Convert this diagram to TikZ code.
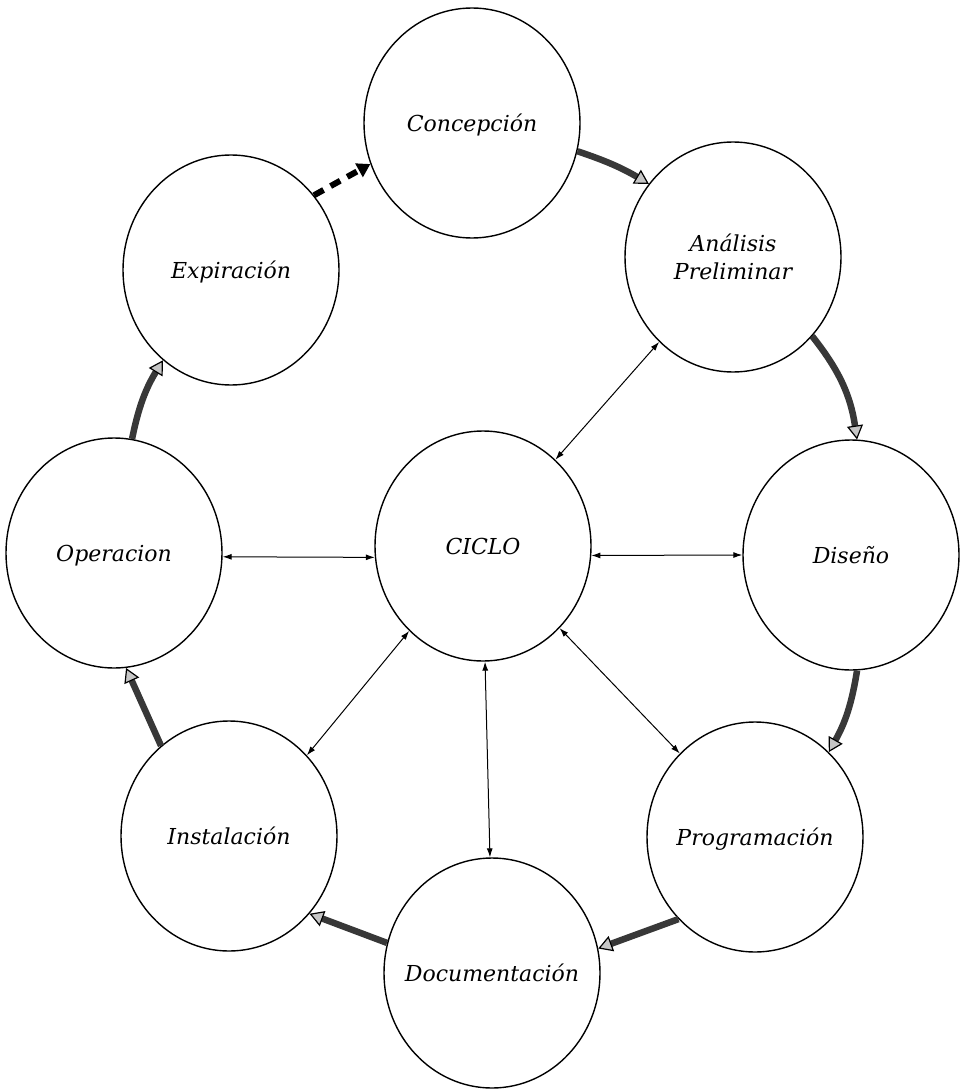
\documentclass[tikz,border=0pt]{standalone}
\usepackage{fontspec}
\setmainfont{DejaVu Serif}
\usetikzlibrary{shapes.geometric,arrows.meta}
\begin{document}
\begin{tikzpicture}[x=1pt,y=-1pt,
  phase/.style={ellipse, draw, line width=1.4pt, minimum width=216pt,
    minimum height=230pt, inner xsep=-20pt, inner ysep=0pt, align=center,
    text depth=-10pt, font=\fontsize{22}{28}\selectfont\itshape},
  link/.style={line width=1pt,
    {Latex[length=9pt,width=6pt]}-{Latex[length=9pt,width=6pt]}},
  flow/.style={line width=6.5pt, draw=black!78,
    -{Triangle[length=14pt,width=16pt,fill=gray!45,color=black,line width=1.2pt]}},
  lastflow/.style={line width=6pt, draw=black, dash pattern=on 11pt off 8pt,
    -{Triangle[length=13pt,width=15pt]}}
]
\useasboundingbox (0,0) rectangle (959,1091);
\fill[white] (0,0) rectangle (959,1091);

% phases of the life cycle
\node[phase] (con) at (472,123) {Concepción};
\node[phase] (ana) at (733,257) {Análisis\\Preliminar};
\node[phase] (dis) at (851,555) {Diseño};
\node[phase] (pro) at (755,837) {Programación};
\node[phase] (doc) at (492,973) {Documentación};
\node[phase] (ins) at (229,836) {Instalación};
\node[phase] (ope) at (114,553) {Operacion};
\node[phase] (exp) at (231,270) {Expiración};
\node[phase] (cic) at (483,546) {CICLO};

% cycle between consecutive phases
\draw[flow] (con.-15) to[bend left=6] (ana.139);
\draw[flow] (ana.-45) to[bend left=15] (dis.87);
\draw[flow] (dis.-87) to[bend left=10] (pro.49);
\draw[flow] (pro.-133) -- (doc.13);
\draw[flow] (doc.164) -- (ins.-44);
\draw[flow] (ins.127) -- (ope.-84);
\draw[flow] (ope.81) to[bend left=10] (exp.-127);
\draw[lastflow] (exp.42) -- (con.-158);

% links between the centre and the phases
\draw[link] (cic.50) -- (ana.-131);
\draw[link] (cic.-5) -- (dis.180);
\draw[link] (cic.-47) -- (pro.132);
\draw[link] (cic.-89) -- (doc.91);
\draw[link] (cic.-131) -- (ins.46);
\draw[link] (cic.186) -- (ope.-2);
\end{tikzpicture}
\end{document}
